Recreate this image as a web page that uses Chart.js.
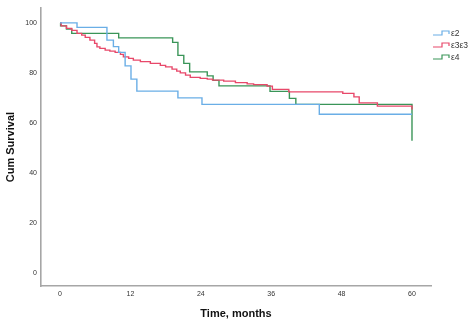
<!DOCTYPE html>
<html>
<head>
<meta charset="utf-8">
<script src="https://cdn.jsdelivr.net/npm/chart.js@4/dist/chart.umd.min.js"></script>
<style>
html,body{margin:0;padding:0;background:#fff;}
#wrap{width:474px;height:325px;}
</style>
</head>
<body>
<div id="wrap"><canvas id="c" width="474" height="325"></canvas></div>
<script>
// Series labels
const seriesLabels = ["ε2", "ε3ε3", "ε4"];
// Tick labels
const xTicks = [0, 12, 24, 36, 48, 60];
const yTicks = [0, 20, 40, 60, 80, 100];
// Kaplan-Meier step points: time (months)
const e2Times  = [0, 2.9, 8.0, 9.1, 10.0, 11.1, 12.1, 13.1, 20.1, 24.2, 44.2, 60];
const e2Surv   = [100, 98.2, 93.1, 90.5, 88.2, 82.8, 77.5, 72.7, 70.0, 67.4, 63.4, 63.4];
const e33Times = [0, 0.2, 1.1, 2.0, 2.9, 3.7, 4.3, 5.1, 5.9, 6.3, 6.8, 7.7, 8.5, 9.4, 10.3, 10.8, 11.7, 12.5, 13.7, 15.4, 17.1, 18.0, 19.1, 19.9, 20.5, 21.4, 22.2, 23.9, 25.1, 26.0, 27.9, 29.9, 31.9, 33.0, 35.3, 36.2, 39.0, 48.2, 50.1, 51.0, 54.1, 60, 60];
const e33Surv  = [100, 98.8, 97.8, 97.0, 95.8, 95.1, 94.2, 93.1, 91.8, 90.4, 89.8, 89.1, 88.7, 88.2, 87.4, 86.4, 85.8, 85.1, 84.5, 83.8, 83.0, 82.4, 81.5, 80.7, 80.0, 79.1, 78.2, 77.8, 77.5, 77.1, 76.7, 76.1, 75.6, 75.3, 74.7, 73.4, 72.4, 71.8, 70.4, 68.0, 66.7, 66.7, 65.3];
const e4Times  = [0, 0.1, 1.1, 2.0, 10.0, 19.2, 20.1, 21.1, 22.1, 25.1, 26.1, 27.1, 35.8, 39.1, 40.2, 60, 60];
const e4Surv   = [100, 98.8, 97.5, 95.8, 94.0, 92.2, 87.0, 83.8, 80.4, 78.8, 77.0, 74.8, 72.6, 69.8, 67.4, 67.4, 52.8];

const colors = ["#6aaee6", "#e8486a", "#3a9558"];

function pts(t, s){ return t.map((v,i)=>({x:v, y:s[i]})); }

const legendPlugin = {
  id: 'stepLegend',
  afterDraw(chart){
    const ctx = chart.ctx;
    const x0 = 433, y0 = 33, dy = 12;
    ctx.save();
    chart.data.datasets.forEach((ds,i)=>{
      const y = y0 + i*dy;
      ctx.strokeStyle = ds.borderColor;
      ctx.lineWidth = 1.2;
      ctx.beginPath();
      ctx.moveTo(x0, y+2);
      ctx.lineTo(x0+9, y+2);
      ctx.lineTo(x0+9, y-2);
      ctx.lineTo(x0+16, y-2);
      ctx.lineTo(x0+16, y+1);
      ctx.stroke();
      ctx.fillStyle = '#333';
      ctx.font = '8.5px "Liberation Sans", Arial, sans-serif';
      ctx.textBaseline = 'middle';
      ctx.textAlign = 'left';
      ctx.fillText(ds.label, x0+18, y+0.5);
    });
    ctx.restore();
  }
};

new Chart(document.getElementById('c'), {
  type: 'line',
  data: {
    datasets: [
      {label: seriesLabels[0], data: pts(e2Times, e2Surv), borderColor: colors[0]},
      {label: seriesLabels[1], data: pts(e33Times, e33Surv), borderColor: colors[1]},
      {label: seriesLabels[2], data: pts(e4Times, e4Surv), borderColor: colors[2]}
    ].map(d=>Object.assign(d, {stepped:'before', borderWidth:1.4, pointRadius:0, fill:false, tension:0}))
  },
  options: {
    responsive: false,
    animation: false,
    devicePixelRatio: 1,
    layout: {padding: {top: 8, right: 43, left: 0, bottom: 0}},
    plugins: {legend: {display: false}, tooltip: {enabled: false}},
    scales: {
      x: {
        type: 'linear', min: -3.24, max: 63.24,
        afterBuildTicks: s => { s.ticks = xTicks.map(v=>({value:v})); },
        afterFit: s => { s.height = 39; },
        grid: {display: false, drawTicks: false},
        border: {display: true, color: '#a6a6a6', width: 1.6},
        ticks: {color: '#333', font: {size: 7, family: '"Liberation Sans", Arial, sans-serif'}, padding: 4, maxRotation: 0},
        title: {display: true, text: 'Time, months', color: '#111', font: {size: 11, weight: 'bold', family: '"Liberation Sans", Arial, sans-serif'}}
      },
      y: {
        type: 'linear', min: -5.32, max: 105.88,
        afterBuildTicks: s => { s.ticks = yTicks.map(v=>({value:v})); },
        afterFit: s => { s.width = 41; },
        grid: {display: false, drawTicks: false},
        border: {display: true, color: '#a6a6a6', width: 1.6},
        ticks: {color: '#333', font: {size: 7, family: '"Liberation Sans", Arial, sans-serif'}, padding: 4},
        title: {display: true, text: 'Cum Survival', color: '#111', font: {size: 11, weight: 'bold', family: '"Liberation Sans", Arial, sans-serif'}}
      }
    }
  },
  plugins: [legendPlugin]
});
</script>
</body>
</html>
